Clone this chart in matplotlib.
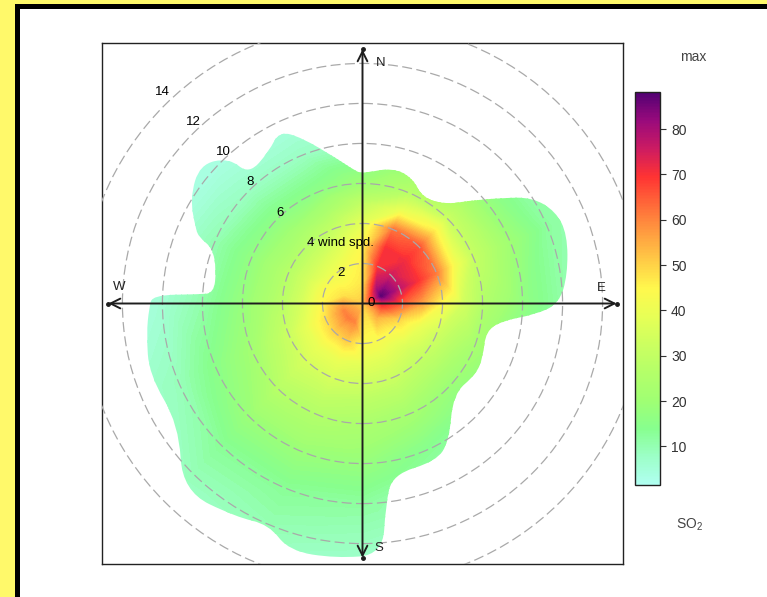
import numpy as np
import matplotlib
matplotlib.use('Agg')
import matplotlib.pyplot as plt
import matplotlib.tri as mtri
from matplotlib.colors import LinearSegmentedColormap, Normalize
from matplotlib.cm import ScalarMappable
from matplotlib.patches import Rectangle, PathPatch, Circle
from matplotlib.path import Path

plt.rcParams['font.family'] = ['Liberation Sans', 'DejaVu Sans']
plt.rcParams['mathtext.default'] = 'regular'

# surface grid: wind direction (deg from north) x wind speed
wd = [0, 22.5, 45, 67.5, 90, 112.5, 135, 157.5,
      180, 202.5, 225, 247.5, 270, 292.5, 315, 337.5]
ws = [1, 2, 3, 4, 5, 6, 8, 10, 13.5]

so2_calm = 51
so2_n   = [47, 46, 44, 38, 30, 20, 9, 4, 3]
so2_nne = [64, 70, 70, 62, 40, 27, 15, 8, 4]
so2_ne  = [80, 75, 71, 66, 48, 32, 18, 11, 6]
so2_ene = [87, 77, 70, 61, 42, 31, 20, 12, 7]
so2_e   = [72, 65, 56, 44, 34, 26, 17, 11, 6]
so2_ese = [62, 50, 40, 33, 27, 22, 14, 9, 5]
so2_se  = [54, 44, 36, 30, 25, 19, 12, 7, 4]
so2_sse = [47, 43, 37, 32, 27, 22, 14, 9, 5]
so2_s   = [47, 44, 38, 33, 28, 24, 18, 12, 6]
so2_ssw = [60, 51, 40, 35, 30, 26, 19, 13, 8]
so2_sw  = [61, 50, 40, 35, 31, 27, 19, 13, 7]
so2_wsw = [60, 48, 39, 32, 27, 21, 15, 9, 5]
so2_w   = [56, 45, 35, 28, 23, 18, 11, 6, 3]
so2_wnw = [48, 43, 34, 27, 22, 17, 10, 5, 3]
so2_nw  = [46, 41, 34, 27, 21, 16, 8, 4, 3]
so2_nnw = [46, 43, 37, 30, 23, 16, 8, 4, 3]

# outline of the area that has data (direction, wind speed)
edge_wd = [0, 12.5, 21.7, 29.6, 40, 46, 53, 58, 64.5, 71.4, 82, 90, 93.6, 97,
           102.6, 114, 122, 135, 147.8, 155, 170, 173.4, 175.4, 186, 196.5,
           203, 210.6, 223.8, 236.6, 251.6, 262, 268.8, 272.3, 273.2, 274,
           283, 290.3, 292, 294.3, 301.5, 310.5, 317.5, 318.7, 328.5, 334.2,
           340, 349.6, 357]
edge_ws = [6.5, 6.95, 6.76, 6.08, 6.47, 7.39, 8.77, 10.0, 10.7, 10.8, 10.35,
           9.83, 8.68, 7.06, 6.32, 6.59, 6.69, 6.4, 8.13, 8.7, 8.68, 10.1, 12.6,
           12.8, 12.9, 12.0, 12.4, 13.0, 11.0, 11.24, 10.9, 10.67, 10.5, 8.2,
           7.45, 7.5, 8.0, 8.8, 9.16, 10.1, 10.7, 9.87, 8.59, 8.93, 9.57, 8.81,
           7.4, 6.63]

ring_ws = [2, 4, 6, 8, 10, 12, 14]
label_ws = [0, 2, 4, 6, 8, 10, 12, 14]
cbar_ticks = [10, 20, 30, 40, 50, 60, 70, 80]
so2_min, so2_max = 1.5, 88.2

increment = ["#B0FFF1", "#9CFFC7", "#87FF8E", "#A0FF73", "#B4FF69",
             "#CCFF60", "#E7FF56", "#FFF84D", "#FFCB46", "#FF9C40",
             "#FF6939", "#FF3333", "#CC1B62", "#990A7C", "#520173"]


def smooth_outline(pts):
    # closed quadratic bezier through the midpoints of the outline points
    n = len(pts)
    mids = [(pts[i] + pts[(i + 1) % n]) / 2 for i in range(n)]
    verts = [mids[-1]]
    codes = [Path.MOVETO]
    for i in range(n):
        verts += [pts[i], mids[i]]
        codes += [Path.CURVE3, Path.CURVE3]
    verts.append(mids[-1])
    codes.append(Path.CLOSEPOLY)
    return Path(np.array(verts), codes)


def main():
    cmap = LinearSegmentedColormap.from_list('increment', increment, N=256)

    fig = plt.figure(figsize=(7.67, 5.97), dpi=100, facecolor='#FFF96A')
    fig.add_artist(Rectangle((15 / 767, 0), 1, 593 / 597, transform=fig.transFigure,
                             fc='black', ec='none', zorder=-2))
    fig.add_artist(Rectangle((20 / 767, 0), 1, 588 / 597, transform=fig.transFigure,
                             fc='white', ec='none', zorder=-1))

    ax = fig.add_axes([102 / 767, 33 / 597, 521 / 767, 521 / 597])
    lim = 13.02
    ax.set_xlim(-lim, lim)
    ax.set_ylim(-lim, lim)
    ax.set_xticks([])
    ax.set_yticks([])
    for sp in ax.spines.values():
        sp.set_linewidth(1.0)
        sp.set_color('#222222')

    # polar surface
    grid = np.array([so2_n, so2_nne, so2_ne, so2_ene, so2_e, so2_ese, so2_se, so2_sse,
                     so2_s, so2_ssw, so2_sw, so2_wsw, so2_w, so2_wnw, so2_nw, so2_nnw])
    W, T = np.meshgrid(ws, np.radians(wd))
    px = np.concatenate([[0], (W * np.sin(T)).ravel()])
    py = np.concatenate([[0], (W * np.cos(T)).ravel()])
    pz = np.concatenate([[so2_calm], grid.ravel()])
    tri = mtri.Triangulation(px, py)
    levels = np.linspace(so2_min, so2_max, 120)
    cs = ax.tricontourf(tri, pz, levels=levels, cmap=cmap, vmin=so2_min, vmax=so2_max)

    et = np.radians(edge_wd)
    ew = np.array(edge_ws)
    pts = np.column_stack([ew * np.sin(et), ew * np.cos(et)])
    clip = PathPatch(smooth_outline(pts), transform=ax.transData, fc='none', ec='none')
    ax.add_patch(clip)
    cs.set_clip_path(clip)

    # dashed rings
    for r in ring_ws:
        ax.add_patch(Circle((0, 0), r, fill=False, ec='#a9a9a9', lw=0.9,
                            ls=(0, (8, 3.5)), zorder=3))

    # axes with arrows
    tip = 12.7
    arrow = dict(arrowstyle='<->,head_length=0.7,head_width=0.35', lw=1.4,
                 color='#1e1e1e', shrinkA=0, shrinkB=0)
    ax.annotate('', xy=(0, tip), xytext=(0, -tip), arrowprops=arrow, zorder=4)
    ax.annotate('', xy=(tip, 0), xytext=(-tip, 0), arrowprops=arrow, zorder=4)
    ax.plot([0, 0, -tip, tip], [tip, -tip, 0, 0], 'o', ms=2.5, color='#1e1e1e', zorder=4)

    for txt, x, y in [('N', 0.92, 12.03), ('E', 11.95, 0.78),
                      ('S', 0.83, -12.22), ('W', -12.17, 0.82)]:
        ax.text(x, y, txt, ha='center', va='center', fontsize=9.5, color='#222222', zorder=5)

    # ring labels
    a = np.radians(315)
    for v in label_ws:
        txt = '%d wind spd.' % v if v == 4 else str(v)
        ax.annotate(txt, (1.07 * v * np.sin(a), 1.07 * v * np.cos(a)),
                    xytext=(3.5, 0), textcoords='offset points',
                    ha='left', va='center', fontsize=9.5, color='black', zorder=5)

    # colour key
    cax = fig.add_axes([635 / 767, 112 / 597, 25 / 767, 393 / 597])
    sm = ScalarMappable(norm=Normalize(so2_min, so2_max), cmap=cmap)
    cb = fig.colorbar(sm, cax=cax, ticks=cbar_ticks)
    cb.outline.set_linewidth(1.0)
    cb.outline.set_edgecolor('#222222')
    cax.tick_params(length=4, width=0.8, color='#333333', labelsize=10,
                    labelcolor='#333333', pad=4)
    fig.text(693 / 767, 1 - 57 / 597, 'max', ha='center', va='center',
             fontsize=10, color='#444444')
    fig.text(690 / 767, 1 - 525 / 597, 'SO$_2$', ha='center', va='center',
             fontsize=10, color='#444444')

    plt.savefig('out.png', dpi=100, facecolor=fig.get_facecolor())


if __name__ == '__main__':
    main()
